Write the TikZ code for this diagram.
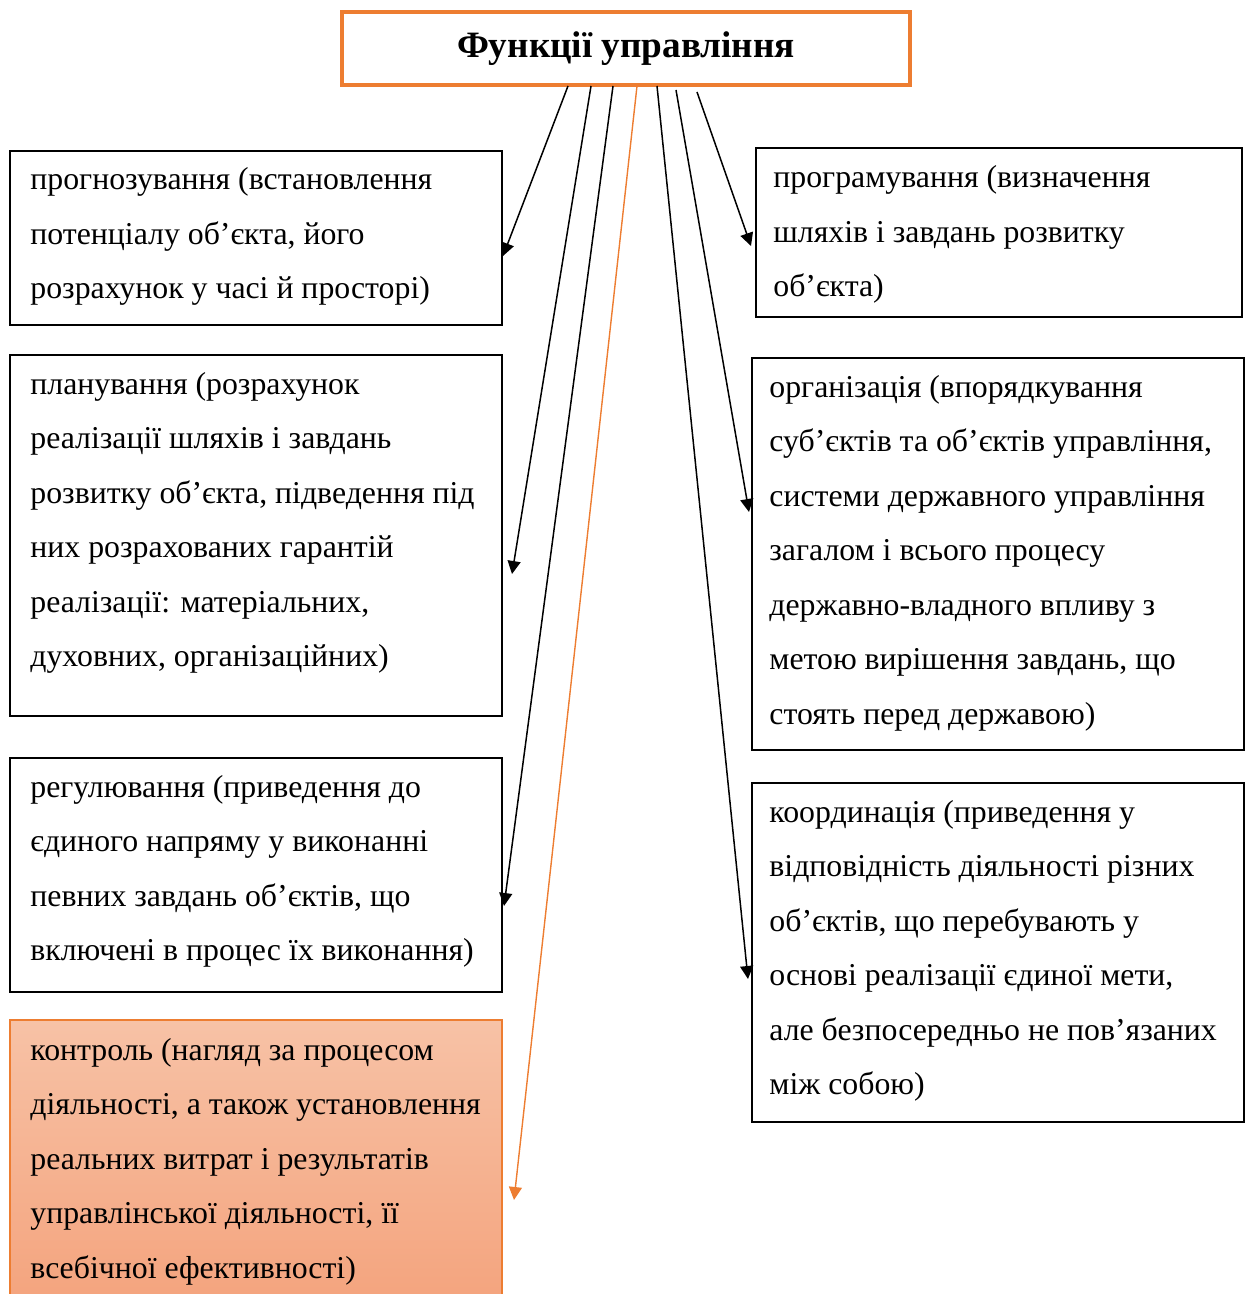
\documentclass[tikz,border=0pt]{standalone}
\usepackage{fontspec}
\setmainfont{Liberation Serif}
\usetikzlibrary{arrows.meta}
\definecolor{accorange}{HTML}{ED7D31}
\definecolor{ctltop}{HTML}{F7C2A6}
\definecolor{ctlbot}{HTML}{F4A47E}
\tikzset{
  box/.style={draw=black, line width=0.8pt, rectangle, inner sep=0pt},
  titlebox/.style={draw=accorange, line width=1.6pt, rectangle, inner sep=0pt, fill=white},
  ctlbox/.style={draw=accorange, line width=0.8pt, rectangle, inner sep=0pt, top color=ctltop, bottom color=ctlbot},
  txt/.style={anchor=base west, align=left, inner sep=0pt, font=\fontsize{15.9}{27.25}\selectfont},
  arr/.style={line width=0.75pt, -{Triangle[length=6.5pt, width=6.5pt]}},
  oarr/.style={arr, draw=accorange, line width=0.7pt, -{Triangle[length=6.5pt, width=6.5pt, fill=accorange]}}
}
\begin{document}
\begin{tikzpicture}[x=0.5pt, y=-0.5pt]
\useasboundingbox (0,0) rectangle (1249,1294);
% boxes
\node[titlebox, minimum width=284pt, minimum height=36.5pt, font=\fontsize{18.6}{22}\selectfont\bfseries] (title) at (626,48.5) {Функції управління};
\node[box, minimum width=246pt, minimum height=87pt] (L1) at (256,238) {};
\node[box, minimum width=246pt, minimum height=180.5pt] (L2) at (256,535.5) {};
\node[box, minimum width=246pt, minimum height=117pt] (L3) at (256,875) {};
\node[ctlbox, minimum width=246pt, minimum height=140pt] (L4) at (256,1160) {};
\node[box, minimum width=243pt, minimum height=84.5pt] (R1) at (999,232.5) {};
\node[box, minimum width=246pt, minimum height=196pt] (R2) at (998,554) {};
\node[box, minimum width=246pt, minimum height=169.5pt] (R3) at (998,952.5) {};
% texts (anchored at the baseline of their last line)
\node[txt] (tL1) at (30,299) {прогнозування (встановлення\\потенціалу об’єкта, його\\розрахунок у часі й просторі)};
\node[txt] (tL2) at (30,666.5) {планування (розрахунок\\реалізації шляхів і завдань\\розвитку об’єкта, підведення під\\них розрахованих гарантій\\реалізації: матеріальних,\\духовних, організаційних)};
\node[txt] (tL3) at (30,960.5) {регулювання (приведення до\\єдиного напряму у виконанні\\певних завдань об’єктів, що\\включені в процес їх виконання)};
\node[txt] (tL4) at (30,1278) {контроль (нагляд за процесом\\діяльності, а також установлення\\реальних витрат і результатів\\управлінської діяльності, її\\всебічної ефективності)};
\node[txt] (tR1) at (773,297) {програмування (визначення\\шляхів і завдань розвитку\\об’єкта)};
\node[txt] (tR2) at (769,724) {організація (впорядкування\\суб’єктів та об’єктів управління,\\системи державного управління\\загалом і всього процесу\\державно-владного впливу з\\метою вирішення завдань, що\\стоять перед державою)};
\node[txt] (tR3) at (769,1094.5) {координація (приведення у\\відповідність діяльності різних\\об’єктів, що перебувають у\\основі реалізації єдиної мети,\\але безпосередньо не пов’язаних\\між собою)};
% arrow ends
\coordinate (a1) at (568,86);  \coordinate (e1) at (503,256);
\coordinate (a2) at (591,86);  \coordinate (e2) at (512,574);
\coordinate (a3) at (613,86);  \coordinate (e3) at (504,906);
\coordinate (a4) at (637,86);  \coordinate (e4) at (514,1200);
\coordinate (a5) at (657,86);  \coordinate (e5) at (748,979);
\coordinate (a6) at (676,90);  \coordinate (e6) at (749,512);
\coordinate (a7) at (697,92);  \coordinate (e7) at (751,246);
\draw[arr] (a1) -- (e1);
\draw[arr] (a2) -- (e2);
\draw[arr] (a3) -- (e3);
\draw[oarr] (a4) -- (e4);
\draw[arr] (a5) -- (e5);
\draw[arr] (a6) -- (e6);
\draw[arr] (a7) -- (e7);
\end{tikzpicture}
\end{document}
